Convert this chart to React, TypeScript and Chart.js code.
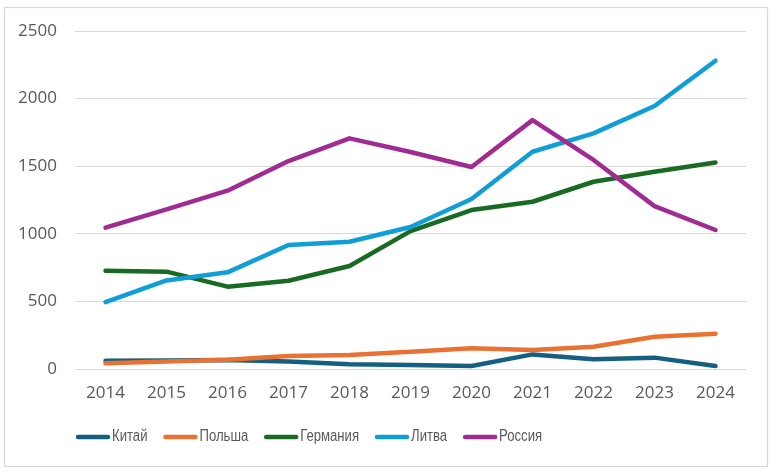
import React, { useEffect, useRef } from "react";
import { Chart, registerables } from "chart.js";

Chart.register(...registerables);

const years = ["2014", "2015", "2016", "2017", "2018", "2019", "2020", "2021", "2022", "2023", "2024"];
const seriesNames = ["Китай", "Польша", "Германия", "Литва", "Россия"];
const china = [61, 63, 66, 55, 35, 30, 22, 108, 72, 84, 22];
const poland = [42, 55, 68, 96, 104, 128, 153, 140, 165, 239, 261];
const germany = [727, 720, 609, 653, 762, 1020, 1176, 1237, 1385, 1459, 1528];
const lithuania = [495, 655, 715, 917, 941, 1050, 1257, 1607, 1743, 1945, 2280];
const russia = [1045, 1180, 1319, 1538, 1706, 1605, 1494, 1841, 1546, 1205, 1028];
const colors = ["#156082", "#E97132", "#196B24", "#0F9ED5", "#A02B93"];

const frameAndLegend = {
  id: "frameAndLegend",
  beforeDraw(chart: any) {
    const ctx = chart.ctx;
    ctx.save();
    ctx.fillStyle = "#ffffff";
    ctx.fillRect(0, 0, chart.width, chart.height);
    ctx.strokeStyle = "#d9d9d9";
    ctx.lineWidth = 1.25;
    ctx.strokeRect(4.5, 7.5, 763, 459);
    ctx.restore();
  },
  afterDraw(chart: any) {
    const ctx = chart.ctx;
    const sx = 0.82;
    ctx.save();
    ctx.font = '16px "Liberation Sans", Arial, sans-serif';
    ctx.textBaseline = "middle";
    ctx.textAlign = "left";
    let x = 76;
    const y = 437;
    chart.data.datasets.forEach((ds: any) => {
      ctx.strokeStyle = ds.borderColor;
      ctx.lineWidth = 4.5;
      ctx.lineCap = "round";
      ctx.beginPath();
      ctx.moveTo(x + 2, y);
      ctx.lineTo(x + 32, y);
      ctx.stroke();
      ctx.fillStyle = "#595959";
      const tx = x + 36;
      ctx.save();
      ctx.translate(tx, y);
      ctx.scale(sx, 1);
      ctx.fillText(ds.label, 0, 0);
      ctx.restore();
      x = tx + ctx.measureText(ds.label).width * sx + 16;
    });
    ctx.restore();
  },
};

export default function App() {
  const ref = useRef<HTMLCanvasElement>(null);
  useEffect(() => {
    const values = [china, poland, germany, lithuania, russia];
    const chart = new Chart(ref.current!, {
      type: "line",
      data: {
        labels: years,
        datasets: values.map((v, i) => ({
          label: seriesNames[i],
          data: v,
          borderColor: colors[i],
          backgroundColor: colors[i],
          borderWidth: 4.5,
          borderCapStyle: "round",
          borderJoinStyle: "round",
          pointRadius: 0,
          tension: 0,
          order: values.length - i,
        })),
      },
      options: {
        responsive: false,
        animation: false,
        layout: { padding: { left: 0, right: 26, top: 31, bottom: 0 } },
        plugins: { legend: { display: false }, tooltip: { enabled: false } },
        scales: {
          x: {
            offset: true,
            grid: { display: false, drawTicks: false },
            border: { display: false },
            ticks: {
              padding: 14,
              color: "#595959",
              font: { family: '"Open Sans", "Liberation Sans", sans-serif', size: 17 },
              maxRotation: 0,
            },
            afterFit: (s: any) => {
              s.height = 103;
            },
          },
          y: {
            min: 0,
            max: 2500,
            grid: { color: "#d9d9d9", lineWidth: 1, drawTicks: false },
            border: { display: false },
            ticks: {
              stepSize: 500,
              padding: 18,
              color: "#595959",
              font: { family: '"Open Sans", "Liberation Sans", sans-serif', size: 17 },
              callback: (v: any) => String(v),
            },
            afterFit: (s: any) => {
              s.width = 75;
            },
          },
        },
      },
      plugins: [frameAndLegend],
    } as any);
    return () => chart.destroy();
  }, []);
  return (
    <div style={{ position: "fixed", left: 0, top: 0, width: 772, height: 472 }}>
      <canvas ref={ref} width={772} height={472} />
    </div>
  );
}
